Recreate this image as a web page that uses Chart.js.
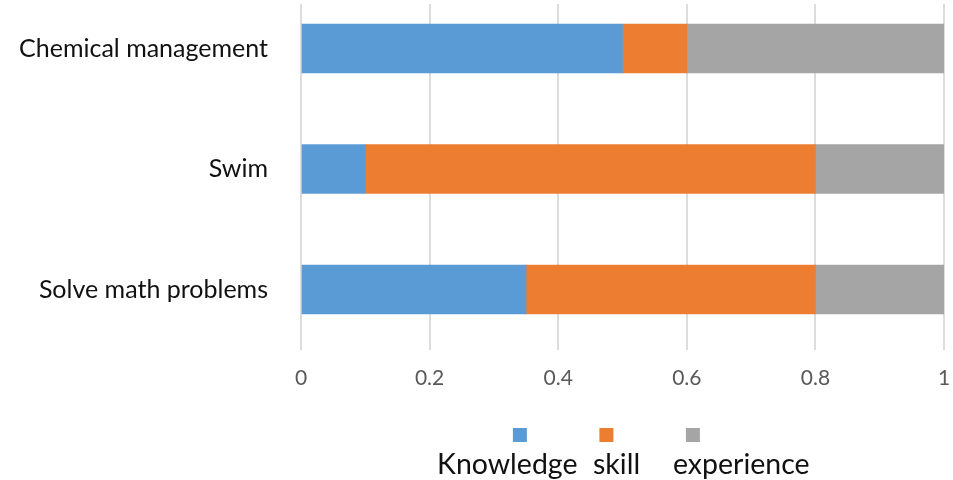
<!DOCTYPE html>
<html>
<head>
<meta charset="utf-8">
<script src="https://cdn.jsdelivr.net/npm/chart.js@4"></script>
<style>
  html, body { margin: 0; padding: 0; background: #fff; }
  #wrap { position: relative; width: 953px; height: 480px; overflow: hidden; }
  #c { position: absolute; left: 0; top: 0; }
  .cap { position: absolute; top: 446px; font-family: Lato, "Open Sans", sans-serif; font-size: 28.5px; line-height: 1.2; color: #111; white-space: pre; }
</style>
</head>
<body>
<div id="wrap">
  <canvas id="c" width="953" height="480"></canvas>
  <div id="captions"></div>
</div>
<script>
// ---- data ----
const categories = ['Chemical management', 'Swim', 'Solve math problems'];
const seriesNames = ['Knowledge', 'skill', 'experience'];
const knowledge = [0.5, 0.1, 0.35];
const skill = [0.1, 0.7, 0.45];
const experience = [0.4, 0.2, 0.2];
const xTicks = [0, 0.2, 0.4, 0.6, 0.8, 1];

const colors = ['#5B9BD5', '#ED7D31', '#A5A5A5'];
const series = [knowledge, skill, experience];

const datasets = series.map((vals, s) => ({
  label: seriesNames[s],
  data: vals.map((v, i) => ({ x: v, y: i })),
  backgroundColor: colors[s],
  borderWidth: 0,
  barThickness: 49
}));

// caption words under the legend
const capLefts = [437, 593, 673];
const capBox = document.getElementById('captions');
seriesNames.forEach((n, i) => {
  const s = document.createElement('span');
  s.className = 'cap';
  s.style.left = capLefts[i] + 'px';
  s.textContent = n;
  capBox.appendChild(s);
});

function noAutoPad(scale) {
  scale.paddingTop = 0; scale.paddingBottom = 0;
  scale.paddingLeft = 0; scale.paddingRight = 0;
  if (scale._margins) {
    scale._margins.top = 0; scale._margins.bottom = 0;
    scale._margins.left = 0; scale._margins.right = 0;
  }
}

new Chart(document.getElementById('c'), {
  type: 'bar',
  data: { datasets },
  options: {
    indexAxis: 'y',
    responsive: false,
    animation: false,
    layout: { autoPadding: false, padding: { left: 0, right: 9, top: 4, bottom: 28 } },
    scales: {
      x: {
        type: 'linear',
        min: 0, max: 1,
        stacked: true,
        offset: false,
        afterBuildTicks: (scale) => { scale.ticks = xTicks.map(v => ({ value: v })); },
        ticks: {
          callback: (v) => String(Math.round(v * 10) / 10),
          color: '#595959',
          font: { family: 'Lato, "Open Sans", sans-serif', size: 21 },
          padding: 16
        },
        grid: { color: '#dcdcdc', lineWidth: 2, drawTicks: false, offset: false },
        border: { display: false },
        afterFit: (scale) => { scale.height = 37.7; noAutoPad(scale); }
      },
      y: {
        type: 'linear',
        reverse: true,
        stacked: true,
        offset: false,
        min: -0.369, max: 2.502,
        afterBuildTicks: (scale) => { scale.ticks = categories.map((c, i) => ({ value: i })); },
        ticks: {
          callback: (v) => categories[v],
          color: '#111',
          font: { family: 'Lato, "Open Sans", sans-serif', size: 25 },
          padding: 33
        },
        grid: { display: false, drawTicks: false, offset: false },
        border: { display: false },
        afterFit: (scale) => { scale.width = 301; noAutoPad(scale); }
      }
    },
    plugins: {
      tooltip: { enabled: false },
      legend: {
        position: 'bottom',
        fullSize: false,
        labels: {
          boxWidth: 14,
          boxHeight: 14,
          padding: 40.3,
          font: { family: '"Liberation Mono", monospace', size: 14 },
          generateLabels: (chart) => chart.data.datasets.map((d, i) => ({
            text: '   ',
            fillStyle: d.backgroundColor,
            strokeStyle: d.backgroundColor,
            lineWidth: 0,
            hidden: false,
            datasetIndex: i
          }))
        }
      }
    }
  }
});
</script>
</body>
</html>
